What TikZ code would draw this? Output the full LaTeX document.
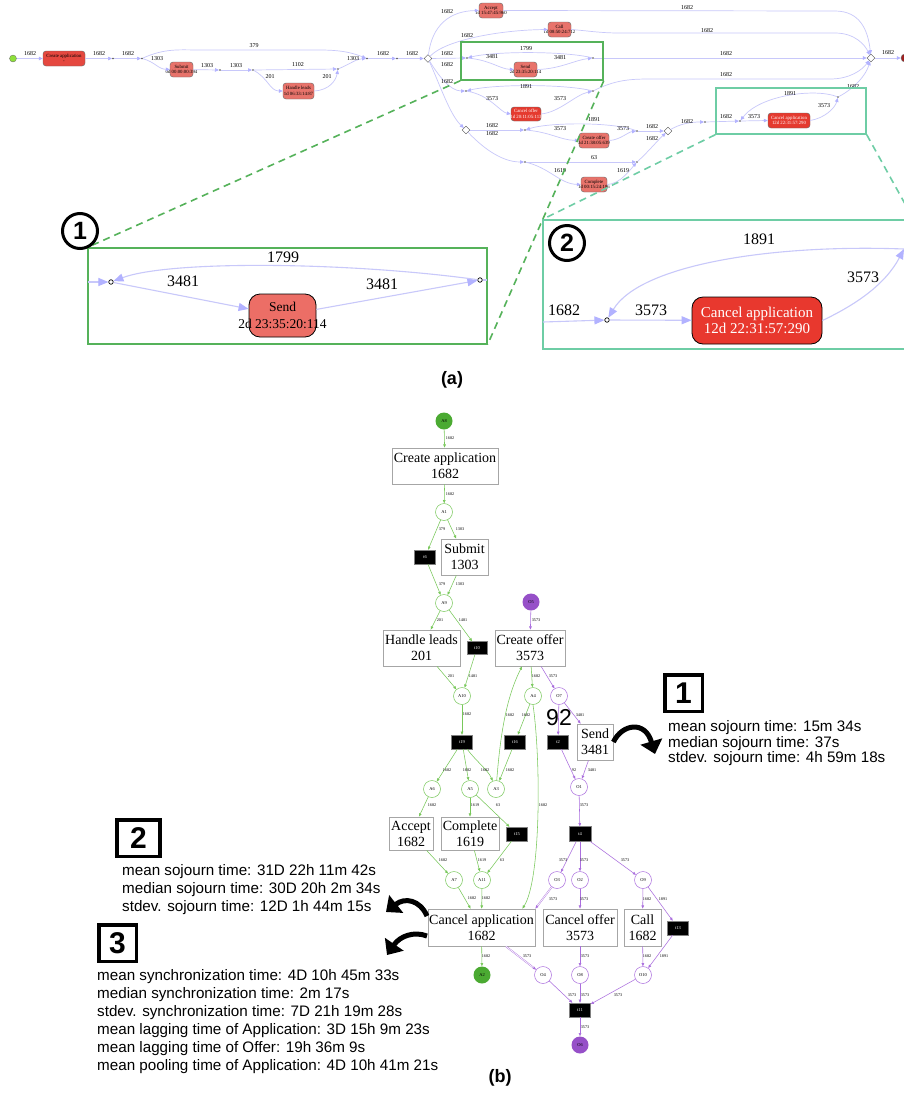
\documentclass[tikz,border=0pt]{standalone}
\usepackage{fontspec}
\setmainfont{Liberation Serif}
\setsansfont{Liberation Sans}
\usetikzlibrary{arrows.meta,shapes.geometric}
\definecolor{pmedge}{RGB}{200,200,250}
\definecolor{pmhead}{RGB}{178,178,255}
\definecolor{redA}{RGB}{229,72,63}
\definecolor{redB}{RGB}{232,115,107}
\definecolor{redC}{RGB}{229,58,47}
\definecolor{sendred}{RGB}{236,110,102}
\definecolor{capred}{RGB}{232,56,46}
\definecolor{startg}{RGB}{142,224,58}
\definecolor{endred}{RGB}{160,32,32}
\definecolor{hlgreen}{RGB}{85,178,90}
\definecolor{hlteal}{RGB}{110,205,165}
\definecolor{pgreen}{RGB}{120,200,90}
\definecolor{pgreenf}{RGB}{75,170,50}
\definecolor{ppurple}{RGB}{170,110,222}
\definecolor{ppurplef}{RGB}{150,80,200}
\newcounter{lbc}
\newcommand{\pml}[3]{\stepcounter{lbc}\node[pmlab] (lb\arabic{lbc}) at (#1,#2) {#3};}
\newcommand{\pnl}[3]{\stepcounter{lbc}\node[pnlab] (lb\arabic{lbc}) at (#1,#2) {#3};}
\newcommand{\inl}[3]{\stepcounter{lbc}\node[inlab] (lb\arabic{lbc}) at (#1,#2) {#3};}
\newcommand{\stl}[3]{\stepcounter{lbc}\node[stat] (lb\arabic{lbc}) at (#1,#2) {#3};}
\newcommand{\pmbox}[8]{\node[pmbx, fill=#6, minimum width=#4pt, minimum height=#5pt, label={[pmtext, text=#7]center:{#8}}] (#1) at (#2,#3) {};}
\tikzset{
 pmlab/.style={font=\fontsize{6}{6}\selectfont, inner sep=0pt},
 pnlab/.style={font=\fontsize{4.2}{4.2}\selectfont, inner sep=0pt},
 inlab/.style={font=\fontsize{16}{16}\selectfont, inner sep=0pt},
 stat/.style={font=\sffamily\fontsize{15.2}{15.2}\selectfont, inner sep=0pt, anchor=west},
 pmtext/.style={font=\fontsize{4.8}{5.5}\selectfont, align=center, inner sep=0pt},
 pmbx/.style={rectangle, rounded corners=3pt, draw=black!60, line width=0.4pt, inner sep=0pt},
 pmdot/.style={circle, fill=black!70, inner sep=0pt, minimum size=1.6pt},
 pmdia/.style={diamond, draw=black!70, fill=white, line width=0.4pt, inner sep=0pt, minimum size=8pt},
 pme/.style={draw=pmedge, line width=0.7pt, -{Triangle[length=4pt,width=3.5pt,color=pmhead]}},
 ine/.style={draw=pmedge, line width=1.1pt, -{Triangle[length=10pt,width=8pt,color=pmhead]}},
 inn/.style={draw=pmedge, line width=1.1pt},
 ring/.style={circle, draw=black, line width=0.7pt, minimum size=4.5pt, inner sep=0pt, fill=white},
 inbox/.style={rectangle, rounded corners=11pt, draw=black, line width=0.8pt, inner sep=0pt},
 numcirc/.style={circle, draw=black, line width=3pt, minimum size=35pt, inner sep=0pt, fill=white, font=\sffamily\bfseries\fontsize{25}{25}\selectfont},
 numbox/.style={rectangle, draw=black, line width=3.5pt, inner sep=0pt, font=\sffamily\bfseries\fontsize{30}{30}\selectfont},
 place/.style={circle, line width=0.5pt, minimum size=17pt, inner sep=0pt, fill=white, font=\fontsize{4.5}{4.5}\selectfont},
 gplace/.style={place, draw=pgreen},
 oplace/.style={place, draw=ppurple},
 fplace/.style={place, draw=none},
 trans/.style={rectangle, fill=black, draw=black!50, text=white, font=\fontsize{4.5}{4.5}\selectfont, inner sep=0pt, minimum width=21pt, minimum height=14pt},
 act/.style={rectangle, draw=gray!70, line width=0.8pt, fill=white, font=\fontsize{14}{16}\selectfont, align=center, inner sep=0pt},
 ge/.style={draw=pgreen, line width=0.55pt, -{Triangle[length=3.2pt,width=2.6pt]}},
 oe/.style={draw=ppurple, line width=0.55pt, -{Triangle[length=3.2pt,width=2.6pt]}},
 oed/.style={draw=ppurple, double=white, double distance=0.7pt, line width=0.4pt, -{Triangle[length=3.2pt,width=2.6pt]}},
 bigarrow/.style={draw=black, line width=5pt, -{Triangle[length=13pt,width=22pt]}},
 capt/.style={font=\sffamily\bfseries\fontsize{18}{18}\selectfont, inner sep=0pt},
}
\begin{document}
\begin{tikzpicture}[x=1pt,y=-1pt]
\useasboundingbox[fill=white] (0,0) rectangle (904,1093);

% ================= (a) process map =================
\node[circle, fill=startg, draw=black!60, line width=0.3pt, minimum size=7pt, inner sep=0pt] (s) at (13,58.5) {};
\pmbox{ca}{64}{58.5}{42}{15}{redA}{black}{Create application\\-}
\node[pmdot] (d1) at (113,58.5) {};
\node[pmdot] (d2) at (142,58.5) {};
\pmbox{sub}{181.5}{69.5}{23}{15}{redB}{black}{Submit\\0d 00:00:00:394}
\node[pmdot] (d3) at (220,70) {};
\node[pmdot] (d4) at (253,70) {};
\pmbox{hl}{298.5}{91}{31}{16}{redB}{black}{Handle leads\\1d 06:33:14:87}
\node[pmdot] (d5) at (338,69) {};
\node[pmdot] (d6) at (367,58.5) {};
\node[pmdot] (d7) at (397,58.5) {};
\node[pmdia] (m1) at (428,58.5) {};
\pmbox{acc}{491}{10.5}{24}{15}{redB}{black}{Accept\\1d 15:47:45:960}
\pmbox{cal}{559.5}{29.5}{23}{15}{redB}{black}{Call\\1d 08:50:24:712}
\node[pmdot] (d8) at (467,58) {};
\pmbox{snd}{525.5}{69.5}{23}{15}{redB}{black}{Send\\2d 23:35:20:114}
\node[pmdot] (d9) at (593,58) {};
\node[pmdot] (d10) at (466,91) {};
\pmbox{cof}{526}{114}{30}{14}{redC}{white}{Cancel offer\\1d 20:11:05:113}
\node[pmdot] (d11) at (593,91) {};
\node[pmdia] (m2) at (466,130) {};
\node[pmdot] (d12) at (525,130) {};
\pmbox{crof}{594}{140.5}{30}{15}{redB}{black}{Create offer\\3d 21:38:05:639}
\node[pmdot] (d13) at (637,131) {};
\node[pmdot] (d14) at (525,162) {};
\pmbox{cmp}{594}{184.5}{26}{15}{redB}{black}{Complete\\1d 00:15:24:186}
\node[pmdot] (d15) at (637,162) {};
\node[pmdia] (m3) at (668,131) {};
\node[pmdot] (d16) at (705,122) {};
\node[pmdot] (d17) at (740,121) {};
\pmbox{capp}{789}{120.5}{42}{15}{redC}{white}{Cancel application\\12d 22:31:57:290}
\node[pmdot] (d18) at (838,97) {};
\node[pmdia] (m4) at (871,58) {};
\node[circle, fill=endred, draw=black!60, minimum size=8pt, inner sep=0pt] (e) at (905,58) {};

\draw[pme] (s) -- (ca);
\draw[pme] (ca) -- (d1);
\draw[pme] (d1) -- (d2);
\draw[pme] (d2) .. controls (165,48) and (180,50) .. (200,50) -- (320,50) .. controls (345,50) and (355,54) .. (d6);
\draw[pme] (d2) .. controls (155,62) and (158,69) .. (sub.west);
\draw[pme] (sub) -- (d3);
\draw[pme] (d3) -- (d4);
\draw[pme] (d4) -- (d5);
\draw[pme] (d4) .. controls (268,78) and (270,91) .. (hl.west);
\draw[pme] (hl.east) .. controls (330,90) and (336,80) .. (d5);
\draw[pme] (d5) .. controls (350,64) and (356,59) .. (d6);
\draw[pme] (d6) -- (d7);
\draw[pme] (d7) -- (m1);
\draw[pme] (m1) .. controls (432,25) and (450,11) .. (acc.west);
\draw[pme] (m1) .. controls (445,40) and (500,30) .. (cal.west);
\draw[pme] (m1) -- (d8);
\draw[pme] (d8) .. controls (490,60) and (500,69) .. (snd.west);
\draw[pme] (snd.east) .. controls (560,69) and (575,60) .. (d9);
\draw[pme] (d9) .. controls (565,51) and (495,51) .. (d8);
\draw[pme] (d9) -- (m4);
\draw[pme] (acc.east) -- (835,11) .. controls (860,11) and (868,30) .. (m4);
\draw[pme] (cal.east) .. controls (590,31) and (600,33) .. (620,33) -- (835,33) .. controls (855,33) and (865,45) .. (m4);
\draw[pme] (m1) .. controls (438,75) and (450,91) .. (d10);
\draw[pme] (d10) .. controls (490,95) and (500,112) .. (cof.west);
\draw[pme] (cof.east) .. controls (560,112) and (575,95) .. (d11);
\draw[pme] (d11) .. controls (565,84) and (495,84) .. (d10);
\draw[pme] (d11) .. controls (615,80) and (630,79) .. (650,79) -- (830,79) .. controls (850,79) and (862,70) .. (m4);
\draw[pme] (m1) .. controls (440,85) and (450,115) .. (m2);
\draw[pme] (m2) -- (d12);
\draw[pme] (d12) .. controls (550,132) and (560,140) .. (crof.west);
\draw[pme] (crof.east) .. controls (620,140) and (628,132) .. (d13);
\draw[pme] (d13) .. controls (615,122) and (550,122) .. (d12);
\draw[pme] (d13) -- (m3);
\draw[pme] (m2) .. controls (480,145) and (500,162) .. (d14);
\draw[pme] (d14) -- (d15);
\draw[pme] (d14) .. controls (550,168) and (560,184) .. (cmp.west);
\draw[pme] (cmp.east) .. controls (620,184) and (630,170) .. (d15);
\draw[pme] (d15) .. controls (648,152) and (658,140) .. (m3);
\draw[pme] (m3) .. controls (680,124) and (690,122) .. (d16);
\draw[pme] (d16) -- (d17);
\draw[pme] (d17) -- (capp.west);
\draw[pme] (capp.east) .. controls (825,118) and (835,108) .. (d18);
\draw[pme] (d18) .. controls (815,88) and (760,95) .. (d17);
\draw[pme] (d18) .. controls (855,88) and (866,75) .. (m4);
\draw[pme] (m4) -- (e);

\pml{30}{54}{1682}\pml{99}{54}{1682}\pml{128}{54}{1682}\pml{254}{46}{379}
\pml{157}{59}{1303}\pml{207}{66}{1303}\pml{236}{66}{1303}\pml{298}{65}{1102}
\pml{270}{77}{201}\pml{327}{77}{201}\pml{353}{59}{1303}\pml{383}{54}{1682}
\pml{412}{54}{1682}\pml{447}{12}{1682}\pml{467}{36}{1682}\pml{447}{54}{1682}
\pml{526}{49}{1799}\pml{492}{57}{3481}\pml{560}{58}{3481}\pml{726}{54}{1682}
\pml{687}{8}{1682}\pml{707}{31}{1682}\pml{447}{65}{1682}\pml{526}{87}{1891}
\pml{492}{99}{3573}\pml{560}{99}{3573}\pml{726}{75}{1682}\pml{447}{82}{1682}
\pml{492}{126}{1682}\pml{594}{120}{1891}\pml{560}{129}{3573}\pml{623}{129}{3573}
\pml{652}{127}{1682}\pml{492}{134}{1682}\pml{594}{158}{63}\pml{560}{171}{1619}
\pml{623}{171}{1619}\pml{652}{139}{1682}\pml{687}{122}{1682}\pml{726}{117}{1682}
\pml{754}{117}{3573}\pml{790}{94}{1891}\pml{824}{106}{3573}\pml{853}{87}{1682}
\pml{888}{53}{1682}

\node[draw=hlgreen, line width=1.5pt, minimum width=142pt, minimum height=38pt, inner sep=0pt] (g1) at (532,61) {};
\node[draw=hlteal, line width=1.5pt, minimum width=150pt, minimum height=46pt, inner sep=0pt] (g2) at (791,111) {};

% insets
\node[draw=hlgreen, line width=1.2pt, minimum width=399pt, minimum height=96pt, inner sep=0pt] (i1) at (287.5,296) {};
\node[draw=hlteal, line width=1.2pt, minimum width=370pt, minimum height=129pt, inner sep=0pt] (i2) at (728,284.5) {};
\draw[hlgreen, line width=1.6pt, dash pattern=on 7pt off 5pt] (g1.south west) -- (i1.north west);
\draw[hlgreen, line width=1.6pt, dash pattern=on 7pt off 5pt] (g1.south east) -- (i1.south east);
\draw[hlteal, line width=1.6pt, dash pattern=on 7pt off 5pt] (g2.south west) -- (i2.north west);
\draw[hlteal, line width=1.6pt, dash pattern=on 7pt off 5pt] (g2.south east) -- (i2.north east);

\node[numcirc] (c1) at (80,231) {1};
\node[numcirc] (c2) at (567,243) {2};

% inset 1
\node[ring] (L1) at (111,282) {};
\node[ring] (R1) at (480,280) {};
\node[inbox, fill=sendred, minimum width=67pt, minimum height=43pt,
  label={[font=\fontsize{13.5}{16.5}\selectfont, align=center, inner sep=0pt]center:{Send\\2d 23:35:20:114}}] (S1) at (282.5,315.5) {};
\coordinate (in1) at (88,282);
\coordinate (out1) at (487,280);
\draw[ine] (in1) -- (L1);
\draw[ine] (L1) -- (S1);
\draw[ine] (S1) -- (R1);
\draw[inn] (R1) -- (out1);
\draw[ine] (R1) .. controls (350,262) and (170,260) .. (L1);
\inl{283}{257}{1799}\inl{183}{281}{3481}\inl{382}{284}{3481}

% inset 2
\node[ring] (D2) at (607,320) {};
\node[inbox, fill=capred, minimum width=130pt, minimum height=47pt,
  label={[font=\fontsize{15}{15.5}\selectfont, align=center, text=white, inner sep=0pt]center:{Cancel application\\12d 22:31:57:290}}] (C2) at (757,320.5) {};
\coordinate (in2) at (543,322);
\coordinate (out2) at (904,249);
\draw[ine] (in2) -- (D2);
\draw[ine] (D2) -- (C2);
\draw[ine] (C2.east) .. controls (855,305) and (885,285) .. (out2);
\draw[ine] (out2) .. controls (770,244) and (640,265) .. (D2);
\inl{759}{239}{1891}\inl{564}{310}{1682}\inl{651}{310}{3573}\inl{863}{277}{3573}

\node[capt] (capa) at (452,380) {(a)};

% ================= (b) Petri net =================
\node[fplace, fill=pgreenf] (A8) at (444,421) {A8};
\node[act, minimum width=106pt, minimum height=36pt] (CA) at (445,466) {Create application\\1682};
\node[gplace] (A1) at (444,512) {A1};
\node[trans] (t6) at (425,557) {t6};
\node[act, minimum width=47pt, minimum height=36pt] (SU) at (464.5,557) {Submit\\1303};
\node[gplace] (A9) at (444,603) {A9};
\node[act, minimum width=77pt, minimum height=36pt] (HL) at (421.5,648) {Handle leads\\201};
\node[trans, minimum width=20pt, minimum height=13pt] (t10) at (477,648) {t10};
\node[gplace] (A10) at (462,696) {A10};
\node[trans] (t19) at (462,742) {t19};
\node[fplace, fill=ppurplef] (O5) at (531,602) {O5};
\node[act, minimum width=70pt, minimum height=36pt] (COF) at (530,648) {Create offer\\3573};
\node[gplace] (A4) at (533,696) {A4};
\node[oplace] (O7) at (559,696) {O7};
\node[trans] (t16) at (515,742) {t16};
\node[trans] (t2) at (558,742) {t2};
\node[act, minimum width=36pt, minimum height=36pt] (SE) at (595,742) {Send\\3481};
\node[gplace] (A6) at (432,789) {A6};
\node[gplace] (A5) at (470,789) {A5};
\node[gplace] (A3) at (496,789) {A3};
\node[oplace] (O1) at (579,787) {O1};
\node[act, minimum width=44pt, minimum height=33pt] (AC) at (411,833.5) {Accept\\1682};
\node[act, minimum width=58pt, minimum height=33pt] (CP) at (470,833.5) {Complete\\1619};
\node[trans] (t15) at (517,834) {t15};
\node[trans, minimum width=22pt, minimum height=15pt] (t4) at (580,834) {t4};
\node[gplace] (A7) at (454,880) {A7};
\node[gplace] (A11) at (482,880) {A11};
\node[oplace] (O3) at (557,880) {O3};
\node[oplace] (O2) at (580,880) {O2};
\node[oplace] (O9) at (643,880) {O9};
\node[act, minimum width=107pt, minimum height=37pt] (CAP) at (481.5,927.5) {Cancel application\\1682};
\node[act, minimum width=74pt, minimum height=37pt] (COFF) at (580,927.5) {Cancel offer\\3573};
\node[act, minimum width=37pt, minimum height=37pt] (CL) at (642.5,927.5) {Call\\1682};
\node[trans] (t13) at (678,928) {t13};
\node[fplace, fill=pgreenf] (A2) at (482,975) {A2};
\node[oplace] (O4) at (543,975) {O4};
\node[oplace] (O8) at (580,975) {O8};
\node[oplace] (O10) at (643,975) {O10};
\node[trans] (t11) at (580,1010) {t11};
\node[fplace, fill=ppurplef] (O6) at (580,1045) {O6};

\draw[ge] (A8) -- (CA);
\draw[ge] (CA) -- (A1);
\draw[ge] (A1) -- (t6);
\draw[ge] (A1) -- (SU);
\draw[ge] (t6) -- (A9);
\draw[ge] (SU) -- (A9);
\draw[ge] (A9) -- (HL);
\draw[ge] (A9) -- (t10);
\draw[ge] (HL) -- (A10);
\draw[ge] (t10) -- (A10);
\draw[ge] (A10) -- (t19);
\draw[ge] (t19) -- (A6);
\draw[ge] (t19) -- (A5);
\draw[ge] (t19) .. controls (475,760) and (488,770) .. (A3);
\draw[oe] (O5) -- (COF);
\draw[ge] (COF) -- (A4);
\draw[oe] (COF) -- (O7);
\draw[ge] (A4) -- (t16);
\draw[ge] (t16) -- (A3);
\draw[ge] (A3) .. controls (500,740) and (505,700) .. ([xshift=-8pt]COF.south);
\draw[ge] (A4.south) .. controls (541,760) and (541,880) .. ([xshift=-13pt]CAP.north east);
\draw[oe] (O7) -- (t2);
\draw[oe] (O7) -- (SE);
\draw[oe] (t2) -- (O1);
\draw[oe] (SE) -- (O1);
\draw[ge] (A6) -- (AC);
\draw[ge] (A5) -- (CP);
\draw[ge] (A5) -- (t15);
\draw[oe] (O1) -- (t4);
\draw[ge] (AC) -- (A7);
\draw[ge] (CP) -- (A11);
\draw[ge] (t15) -- (A11);
\draw[oe] (t4) -- (O3);
\draw[oe] (t4) -- (O2);
\draw[oe] (t4) -- (O9);
\draw[ge] (A7) -- (CAP);
\draw[ge] (A11) -- (CAP);
\draw[oed] (O3) -- (CAP.north east);
\draw[oe] (O2) -- (COFF);
\draw[oe] (O9) -- (CL);
\draw[oe] (O9) -- (t13);
\draw[ge] (CAP) -- (A2);
\draw[oed] (CAP) -- (O4);
\draw[oe] (COFF) -- (O8);
\draw[oe] (CL) -- (O10);
\draw[oe] (t13) -- (O10);
\draw[oe] (O4) -- (t11);
\draw[oe] (O8) -- (t11);
\draw[oe] (O10) -- (t11);
\draw[oe] (t11) -- (O6);

\pnl{450}{438}{1682}\pnl{450}{494}{1682}\pnl{442}{529}{379}\pnl{460}{529}{1303}
\pnl{442}{584}{379}\pnl{460}{584}{1303}\pnl{440}{620}{201}\pnl{463}{620}{1481}
\pnl{451}{676}{201}\pnl{473}{676}{1481}\pnl{467}{714}{1682}\pnl{536}{620}{3573}
\pnl{536}{676}{1682}\pnl{553}{676}{3573}\pnl{510}{715}{1682}\pnl{526}{715}{1682}
\pnl{580}{715}{3481}\pnl{447}{770}{1682}\pnl{467}{770}{1682}\pnl{485}{770}{1682}
\pnl{510}{770}{1682}\pnl{574}{770}{92}\pnl{592}{770}{3481}\pnl{432}{805}{1682}
\pnl{475}{805}{1619}\pnl{498}{805}{63}\pnl{543}{805}{1682}\pnl{584}{805}{3573}
\pnl{443}{860}{1682}\pnl{482}{860}{1619}\pnl{502}{860}{63}\pnl{563}{860}{3573}
\pnl{584}{860}{3573}\pnl{625}{860}{3573}\pnl{472}{898}{1682}\pnl{486}{898}{1682}
\pnl{553}{899}{3573}\pnl{584}{899}{3573}\pnl{647}{899}{1682}\pnl{663}{899}{1891}
\pnl{486}{956}{1682}\pnl{527}{956}{3573}\pnl{585}{956}{3573}\pnl{647}{956}{1682}
\pnl{664}{956}{1891}\pnl{572}{995}{3573}\pnl{585}{995}{3573}\pnl{618}{995}{3573}
\pnl{585}{1027}{3573}

\node[font=\sffamily\fontsize{23}{23}\selectfont, inner sep=0pt] (n92) at (559,718) {92};

% big curved arrows
\coordinate (ar2s) at (427,916);
\coordinate (ar2e) at (386,912);
\coordinate (ar3s) at (427,936);
\coordinate (ar3e) at (387,955);
\coordinate (ar1e) at (655,754);
\draw[bigarrow] (SE.east) .. controls (622,724) and (645,720) .. (ar1e);
\draw[bigarrow] (ar2s) .. controls (420,900) and (405,897) .. (ar2e);
\draw[bigarrow] (ar3s) .. controls (414,931) and (400,936) .. (ar3e);

% statistics
\node[numbox, minimum width=37.5pt, minimum height=36.5pt] (nb1) at (683.5,693) {1};
\stl{668}{728}{mean sojourn time: 15m 34s}
\stl{668}{743.5}{median sojourn time: 37s}
\stl{668}{759}{stdev. sojourn time: 4h 59m 18s}
\node[numbox, minimum width=43pt, minimum height=36.5pt] (nb2) at (138.5,838) {2};
\stl{122}{872}{mean sojourn time: 31D 22h 11m 42s}
\stl{122}{890}{median sojourn time: 30D 20h 2m 34s}
\stl{122}{908}{stdev. sojourn time: 12D 1h 44m 15s}
\node[numbox, minimum width=37.5pt, minimum height=36.5pt] (nb3) at (117.5,943) {3};
\stl{97}{977}{mean synchronization time: 4D 10h 45m 33s}
\stl{97}{995}{median synchronization time: 2m 17s}
\stl{97}{1013}{stdev. synchronization time: 7D 21h 19m 28s}
\stl{97}{1031}{mean lagging time of Application: 3D 15h 9m 23s}
\stl{97}{1049}{mean lagging time of Offer: 19h 36m 9s}
\stl{97}{1067}{mean pooling time of Application: 4D 10h 41m 21s}

\node[capt] (capb) at (500,1078) {(b)};
\end{tikzpicture}
\end{document}
